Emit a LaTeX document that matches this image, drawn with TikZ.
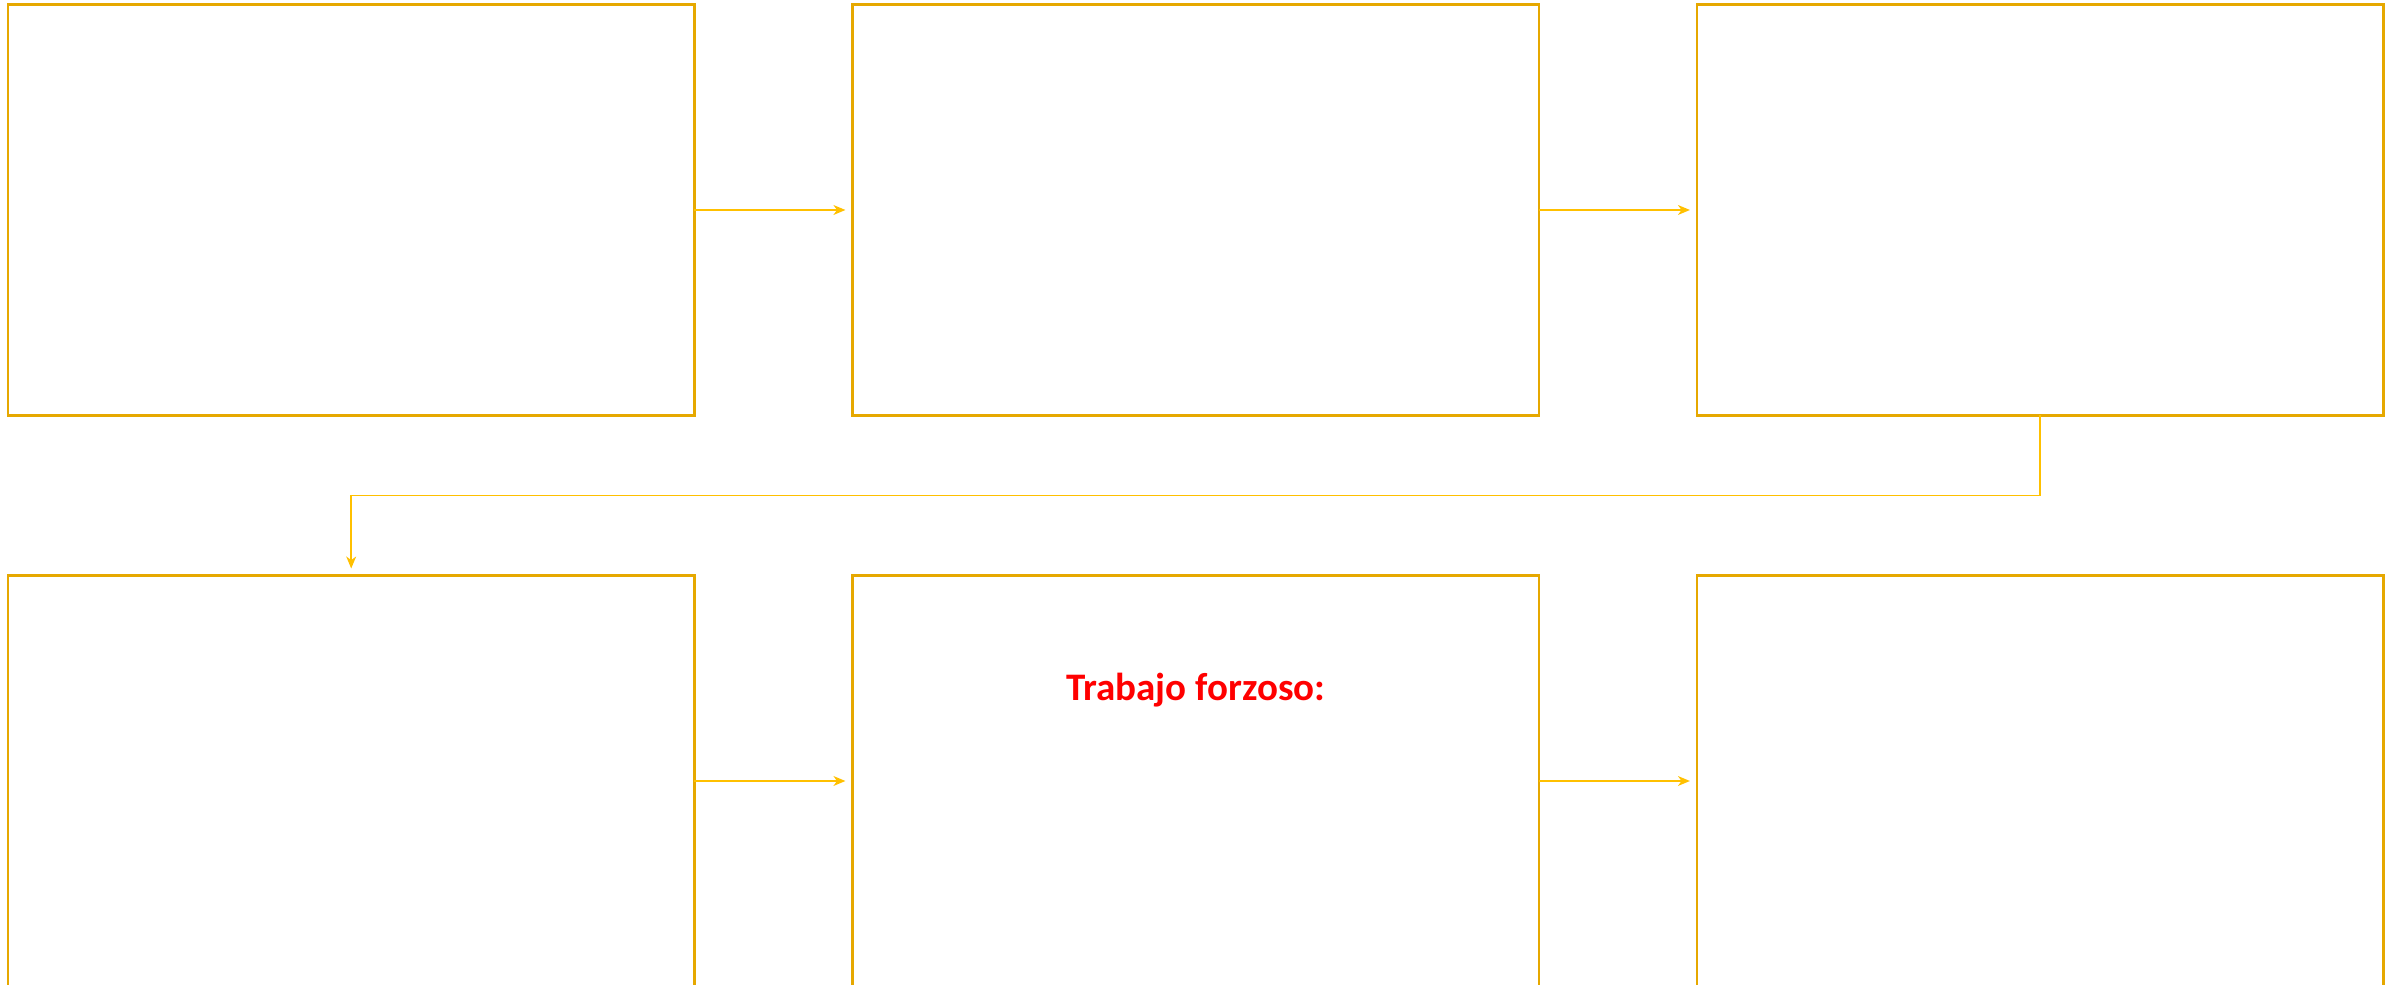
\documentclass[tikz,border=0pt]{standalone}
\usepackage{fontspec}
\setmainfont{Carlito}
\usetikzlibrary{positioning,arrows.meta}
\definecolor{boxgold}{RGB}{230,168,0}
\definecolor{arrowgold}{RGB}{255,192,0}
\begin{document}
\begin{tikzpicture}[>={Stealth[length=3.4pt,width=2.8pt,inset=1pt]},
    stagebox/.style={draw=boxgold, line width=0.7pt, minimum width=6.865cm, minimum height=4.11cm, outer sep=0pt, inner sep=0pt},
    flow/.style={->, draw=arrowgold, line width=0.45pt, shorten >=0.07cm},
    node distance=1.58cm]
\path[use as bounding box, clip](0,0) rectangle (24.04,9.84);

\node[stagebox] (b1) at (3.512,7.74) {};
\node[stagebox, right=of b1] (b2) {};
\node[stagebox, right=of b2] (b3) {};
\node[stagebox, below=1.6cm of b1] (b4) {};
\node[stagebox, right=of b4] (b5) {};
\node[stagebox, right=of b5] (b6) {};

\draw[flow](b1)--(b2);
\draw[flow](b2)--(b3);
\draw[flow](b3.south)--++(0,-0.80)-|(b4.north);
\draw[flow](b4)--(b5);
\draw[flow](b5)--(b6);

\node[anchor=base, text=red, font=\fontsize{11.1}{13}\selectfont\bfseries] (work) at ([yshift=-1.25cm]b5.north) {Trabajo forzoso:};
\end{tikzpicture}
\end{document}
